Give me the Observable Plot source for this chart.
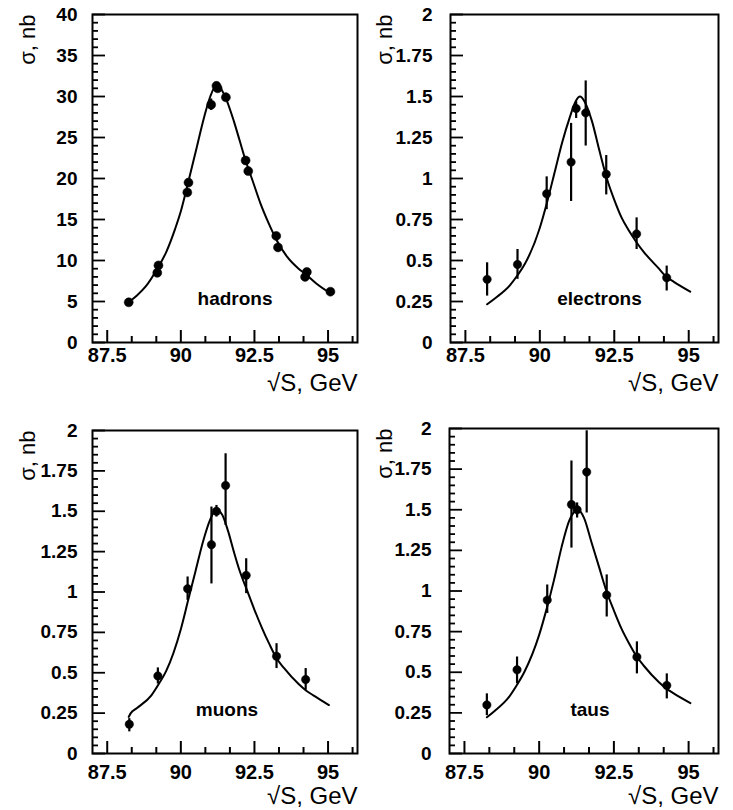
<!DOCTYPE html>
<html><head><meta charset="utf-8">
<script src="https://cdn.jsdelivr.net/npm/d3@7"></script>
<script src="https://cdn.jsdelivr.net/npm/@observablehq/plot@0.6"></script>
<style>
body{margin:0;background:#fff;}
#root{position:relative;width:733px;height:810px;background:#fff;overflow:hidden;}
.panel{position:absolute;}
</style></head><body><div id="root"></div>
<script>
const xMajorTicks = [87.5, 90, 92.5, 95];
const xTickLabels = ["87.5", "90", "92.5", "95"];
const hadYTicks = [0, 5, 10, 15, 20, 25, 30, 35, 40];
const hadYLabels = ["0", "5", "10", "15", "20", "25", "30", "35", "40"];
const sigYTicks = [0, 0.25, 0.5, 0.75, 1, 1.25, 1.5, 1.75, 2];
const sigYLabels = ["0", "0.25", "0.5", "0.75", "1", "1.25", "1.5", "1.75", "2"];

const hadX   = [88.23, 89.24, 89.20, 90.26, 90.22, 91.03, 91.21, 91.25, 91.53, 92.20, 92.29, 93.24, 93.30, 94.28, 94.22, 95.08];
const hadY   = [4.9, 9.4, 8.5, 19.5, 18.3, 29.0, 31.3, 31.0, 29.9, 22.2, 20.9, 13.0, 11.6, 8.6, 8.0, 6.2];
const hadLo  = [4.6, 9.1, 8.2, 19.1, 17.9, 28.3, 30.9, 30.6, 29.4, 21.8, 20.5, 12.7, 11.3, 8.3, 7.7, 5.9];
const hadHi  = [5.2, 9.7, 8.8, 19.9, 18.7, 29.7, 31.7, 31.4, 30.4, 22.6, 21.3, 13.3, 11.9, 8.9, 8.3, 6.5];
const hadFitX = [88.22, 88.5, 88.8, 89.2, 89.5, 89.8, 90.0, 90.2, 90.5, 90.8, 91.0, 91.2, 91.35, 91.55, 91.8, 92.0, 92.2, 92.45, 92.7, 93.0, 93.25, 93.6, 94.0, 94.25, 94.6, 95.08];
const hadFitY = [4.9, 5.7, 6.8, 9.0, 11.0, 13.8, 16.0, 18.8, 23.2, 27.6, 30.0, 31.3, 31.0, 29.6, 27.0, 24.6, 22.2, 19.6, 17.0, 14.4, 12.5, 10.5, 9.0, 8.3, 7.2, 6.0];

const eleX  = [88.23, 89.25, 90.23, 91.05, 91.22, 91.54, 92.23, 93.25, 94.26];
const eleY  = [0.385, 0.476, 0.907, 1.10, 1.427, 1.40, 1.026, 0.662, 0.395];
const eleLo = [0.283, 0.385, 0.81, 0.86, 1.366, 1.198, 0.90, 0.567, 0.314];
const eleHi = [0.486, 0.567, 1.01, 1.336, 1.468, 1.595, 1.14, 0.76, 0.466];
const eleFitX = [88.23, 88.5, 89.0, 89.25, 89.5, 90.0, 90.25, 90.5, 90.75, 91.0, 91.2, 91.35, 91.5, 91.75, 92.0, 92.25, 92.5, 92.75, 93.0, 93.25, 93.5, 94.0, 94.25, 94.5, 95.05];
const eleFitY = [0.233, 0.27, 0.35, 0.41, 0.48, 0.70, 0.86, 1.04, 1.22, 1.37, 1.47, 1.50, 1.47, 1.35, 1.17, 1.00, 0.87, 0.76, 0.68, 0.61, 0.55, 0.45, 0.40, 0.37, 0.31];

const muX  = [88.25, 89.22, 90.23, 91.04, 91.21, 91.52, 92.22, 93.25, 94.24];
const muY  = [0.181, 0.48, 1.02, 1.293, 1.50, 1.66, 1.103, 0.602, 0.458];
const muLo = [0.134, 0.43, 0.948, 1.05, 1.464, 1.412, 0.99, 0.526, 0.392];
const muHi = [0.216, 0.53, 1.093, 1.526, 1.536, 1.856, 1.206, 0.68, 0.526];
const muFitX = [88.23, 88.3, 88.5, 89.0, 89.25, 89.5, 90.0, 90.25, 90.5, 90.75, 91.0, 91.2, 91.4, 91.6, 91.8, 92.0, 92.25, 92.5, 92.75, 93.0, 93.25, 93.5, 94.0, 94.25, 94.5, 95.03];
const muFitY = [0.227, 0.25, 0.28, 0.36, 0.43, 0.51, 0.77, 0.95, 1.13, 1.31, 1.45, 1.51, 1.48, 1.38, 1.25, 1.13, 1.01, 0.89, 0.78, 0.68, 0.59, 0.53, 0.43, 0.39, 0.36, 0.30];

const tauX  = [88.25, 89.26, 90.27, 91.08, 91.27, 91.59, 92.26, 93.27, 94.27];
const tauY  = [0.299, 0.515, 0.944, 1.532, 1.50, 1.732, 0.975, 0.594, 0.419];
const tauLo = [0.233, 0.429, 0.862, 1.264, 1.449, 1.48, 0.84, 0.49, 0.336];
const tauHi = [0.367, 0.594, 1.037, 1.80, 1.542, 1.986, 1.099, 0.687, 0.49];
const tauFitX = [88.25, 88.5, 89.0, 89.25, 89.5, 90.0, 90.25, 90.5, 90.75, 91.0, 91.3, 91.5, 91.75, 92.0, 92.25, 92.5, 92.75, 93.0, 93.25, 93.5, 94.0, 94.25, 94.5, 95.06];
const tauFitY = [0.223, 0.26, 0.35, 0.42, 0.50, 0.73, 0.89, 1.07, 1.27, 1.43, 1.50, 1.45, 1.30, 1.15, 1.00, 0.88, 0.77, 0.68, 0.60, 0.54, 0.44, 0.40, 0.37, 0.31];

const FONT = '"Liberation Sans", Arial, Helvetica, sans-serif';
const xMinor = [88.333, 89.167, 90.833, 91.667, 93.333, 94.167, 95.833];

function panel(c) {
  const pts = c.x.map((x, i) => ({x, y: c.y[i], lo: c.lo[i], hi: c.hi[i]}));
  const fit = c.fx.map((x, i) => ({x, y: c.fy[i]}));
  const yMinor = d3.range(c.yTicks[0], c.yTicks[c.yTicks.length - 1] + c.minorStep / 2, c.minorStep)
    .filter(v => !c.yTicks.some(t => Math.abs(t - v) < 1e-6));
  const y0 = c.yDomain[0], ySpan = c.yDomain[1] - c.yDomain[0];
  const innerH = c.h - c.mt - c.mb, innerW = c.w - c.ml - c.mr;
  // inward tick marks (lengths converted from pixels to data units)
  const xTickRows = xMajorTicks.map(v => ({x: v, y1: y0, y2: y0 + ySpan * 12 / innerH}))
    .concat(xMinor.map(v => ({x: v, y1: y0, y2: y0 + ySpan * 6 / innerH})));
  const yTickRows = c.yTicks.map(v => ({y: v, x1: 87, x2: 87 + 9 * 13 / innerW}))
    .concat(yMinor.map(v => ({y: v, x1: 87, x2: 87 + 9 * 6 / innerW})));
  const svg = Plot.plot({
    width: c.w, height: c.h,
    marginLeft: c.ml, marginRight: c.mr, marginTop: c.mt, marginBottom: c.mb,
    x: {domain: [87, 96]},
    y: {domain: c.yDomain},
    style: {fontFamily: FONT, background: "white", overflow: "visible", color: "black"},
    marks: [
      Plot.frame({stroke: "black", fill: "none", strokeWidth: 2}),
      Plot.axisX(xMajorTicks, {tickSize: 0, tickPadding: c.xPad, fontSize: 20, fontWeight: "bold",
        tickFormat: d => xTickLabels[xMajorTicks.indexOf(d)], label: null}),
      Plot.axisY(c.yTicks, {anchor: "left", tickSize: 0, tickPadding: c.yPad, fontSize: 19, fontWeight: "bold",
        tickFormat: d => c.yLabels[c.yTicks.indexOf(d)], label: null}),
      Plot.ruleX(xTickRows, {x: "x", y1: "y1", y2: "y2", stroke: "black", strokeWidth: 2}),
      Plot.ruleY(yTickRows, {y: "y", x1: "x1", x2: "x2", stroke: "black", strokeWidth: 1.8}),
      Plot.line(fit, {x: "x", y: "y", curve: "monotone-x", stroke: "black", strokeWidth: 2}),
      Plot.ruleX(pts, {x: "x", y1: "lo", y2: "hi", stroke: "black", strokeWidth: 2.2}),
      Plot.dot(pts, {x: "x", y: "y", r: c.r, fill: "black", stroke: "black", strokeWidth: 0.5}),
      Plot.text([c.label], {frameAnchor: "bottom", dx: c.ldx, dy: -38, lineAnchor: "bottom",
        fontSize: 19, fontWeight: "bold", fill: "black"}),
      Plot.text(["\u221AS, GeV"], {frameAnchor: "bottom-right", dx: 0, dy: c.xlDy, textAnchor: "end",
        lineAnchor: "bottom", fontSize: 24, fill: "black"}),
      Plot.text(["\u03C3, nb"], {frameAnchor: "top-left", dx: c.ylDx, dy: 0, rotate: -90,
        textAnchor: "end", lineAnchor: "middle", fontSize: 22, fill: "black"})
    ]
  });
  svg.classList.add("panel");
  svg.style.left = c.left + "px";
  svg.style.top = c.top + "px";
  svg.style.position = "absolute";
  document.getElementById("root").appendChild(svg);
}

panel({left: 0, top: 0, w: 366, h: 400, ml: 92, mr: 9, mt: 14, mb: 58,
  x: hadX, y: hadY, lo: hadLo, hi: hadHi, fx: hadFitX, fy: hadFitY, r: 4.5,
  yDomain: [0, 40], yTicks: hadYTicks, yLabels: hadYLabels, minorStep: 1,
  label: "hadrons", ldx: 10, xPad: 5, yPad: 15, xlDy: 48, ylDx: -65});
panel({left: 360, top: 0, w: 373, h: 400, ml: 90, mr: 15, mt: 14, mb: 58,
  x: eleX, y: eleY, lo: eleLo, hi: eleHi, fx: eleFitX, fy: eleFitY, r: 4.2,
  yDomain: [0, 2], yTicks: sigYTicks, yLabels: sigYLabels, minorStep: 0.05,
  label: "electrons", ldx: 15, xPad: 5, yPad: 18, xlDy: 48, ylDx: -66});
panel({left: 0, top: 405, w: 366, h: 405, ml: 92, mr: 9, mt: 25, mb: 57,
  x: muX, y: muY, lo: muLo, hi: muHi, fx: muFitX, fy: muFitY, r: 4.2,
  yDomain: [0, 2], yTicks: sigYTicks, yLabels: sigYLabels, minorStep: 0.05,
  label: "muons", ldx: 2, xPad: 11, yPad: 15, xlDy: 50, ylDx: -65});
panel({left: 360, top: 405, w: 373, h: 405, ml: 89, mr: 15, mt: 23, mb: 57,
  x: tauX, y: tauY, lo: tauLo, hi: tauHi, fx: tauFitX, fy: tauFitY, r: 4.2,
  yDomain: [0, 2], yTicks: sigYTicks, yLabels: sigYLabels, minorStep: 0.05,
  label: "taus", ldx: 6, xPad: 11, yPad: 18, xlDy: 50, ylDx: -65});
</script>
</body></html>
